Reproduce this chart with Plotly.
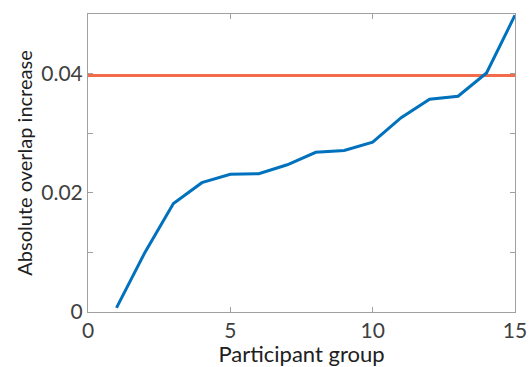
import plotly.graph_objects as go

groups = list(range(1, 16))
overlap_increase = [0.0007, 0.0100, 0.0182, 0.0217, 0.0231, 0.0232, 0.0247, 0.0268,
                    0.0271, 0.0285, 0.0326, 0.0357, 0.0362, 0.0401, 0.0498]
threshold_x = [0, 15]
threshold_y = [0.0397, 0.0397]

y_tickvals = [0, 0.01, 0.02, 0.03, 0.04, 0.05]
y_ticktext = ["0", "", "0.02", "", "0.04", ""]
x_tickvals = [0, 5, 10, 15]
x_ticktext = ["0", "5", "10", "15"]

fig = go.Figure()
fig.add_trace(go.Scatter(x=threshold_x, y=threshold_y, mode="lines",
                         line=dict(color="#F26B4B", width=3), showlegend=False))
fig.add_trace(go.Scatter(x=groups, y=overlap_increase, mode="lines",
                         line=dict(color="#0072BD", width=3), showlegend=False))

axis_common = dict(showline=True, linecolor="#A0A0A0", linewidth=1, mirror="ticks",
                   ticks="inside", ticklen=5, tickcolor="#A0A0A0", showgrid=False,
                   zeroline=False, automargin=False,
                   tickfont=dict(family="Lato", size=21, color="#404040"))

fig.update_xaxes(range=[0, 15], tickvals=x_tickvals, ticktext=x_ticktext,
                 title=dict(text="Participant group", standoff=2,
                            font=dict(family="Lato", size=22, color="#202020")),
                 **axis_common)
fig.update_yaxes(range=[0, 0.05], tickvals=y_tickvals, ticktext=y_ticktext,
                 title=dict(text="Absolute overlap increase", standoff=3,
                            font=dict(family="Lato", size=20, color="#202020")),
                 **axis_common)

fig.update_layout(width=530, height=367, margin=dict(l=88, r=15, t=14, b=55),
                  plot_bgcolor="white", paper_bgcolor="white")
fig.write_html("out.html")
